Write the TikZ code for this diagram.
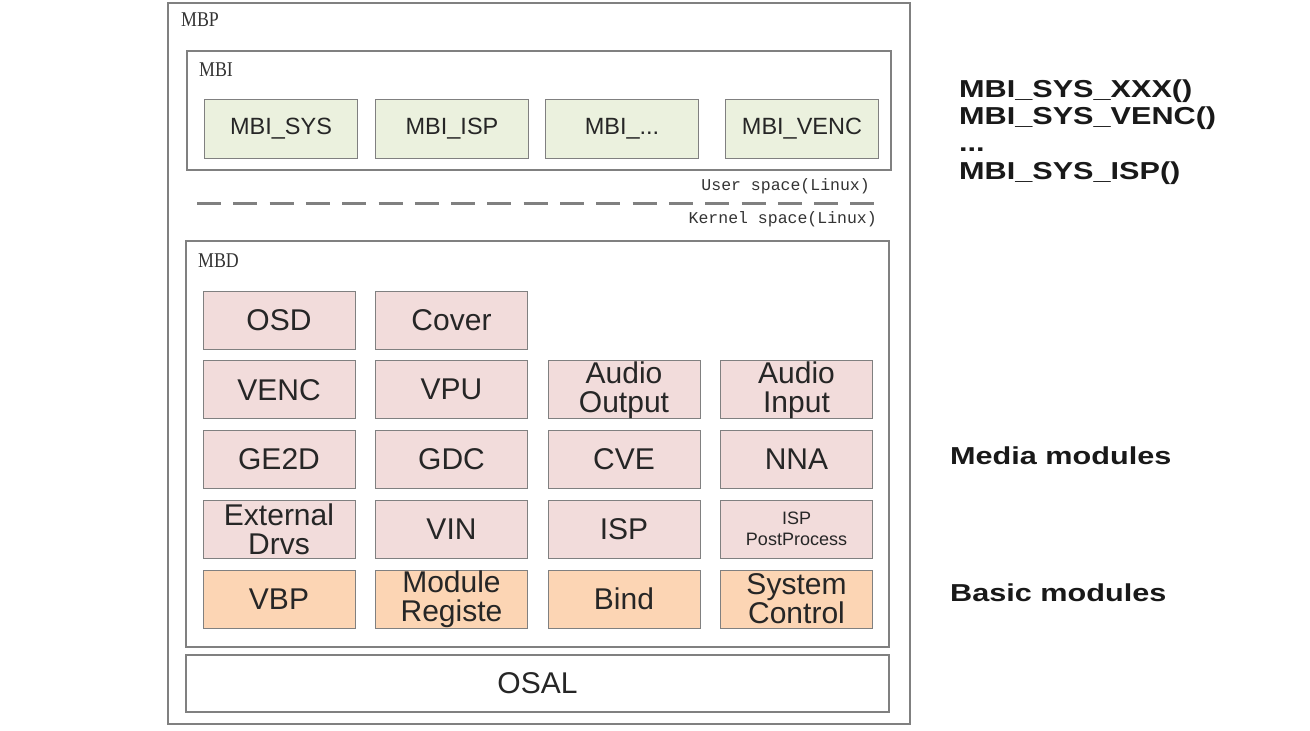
\documentclass[tikz,border=0pt]{standalone}
\usepackage{fontspec}
\setmainfont{Liberation Sans}
\newfontfamily\tagfont[FakeStretch=0.85]{Liberation Serif}
\newfontfamily\spacefont{Liberation Mono}
\newfontfamily\notefont[FakeStretch=1.25]{Liberation Sans}
\usetikzlibrary{positioning}
\usepackage{xcolor}
\definecolor{mbigreen}{HTML}{EBF1DE}
\definecolor{modpink}{HTML}{F2DCDB}
\definecolor{baseorange}{HTML}{FCD5B4}
\definecolor{edgegray}{RGB}{128,128,128}

\begin{document}
\begin{tikzpicture}[
  x=1pt, y=-1pt,
  node distance=10.75pt and 19.5pt,
  frame/.style={rectangle, draw=edgegray, line width=1.2pt, inner sep=0pt},
  box/.style={rectangle, draw=edgegray, line width=1pt, minimum width=152pt, minimum height=58pt, inner sep=0pt, align=center, text=black!85, font=\fontsize{30}{29}\selectfont},
  mbibox/.style={box, fill=mbigreen, minimum width=153pt, minimum height=59pt, font=\fontsize{23.5}{24}\selectfont},
  modbox/.style={box, fill=modpink},
  basebox/.style={box, fill=baseorange},
  lbl/.style={anchor=west, inner sep=0pt, text=black!80, font=\tagfont\fontsize{21}{21}\selectfont},
  spacelbl/.style={anchor=east, inner sep=0pt, text=black!80, font=\spacefont\fontsize{16.5}{17}\selectfont},
  note/.style={anchor=west, inner sep=0pt, align=left, text=black!90, font=\notefont\bfseries\fontsize{24.5}{27.3}\selectfont}
]
\fill[white] (0,0) rectangle (1310,731);
\useasboundingbox (0,0) rectangle (1310,731);

% frames
\node[frame, minimum width=742pt, minimum height=721pt] (mbp) at (539,363.5) {};
\node[frame, minimum width=704pt, minimum height=119pt] (mbi) at (539,110.5) {};
\node[frame, minimum width=703pt, minimum height=406pt] (mbd) at (537.5,444) {};
\node[frame, minimum width=703pt, minimum height=57pt, text=black!85, font=\fontsize{30}{30}\selectfont] (osal) at (537.5,683.5) {OSAL};

\node[lbl] (mbptag) at (181,20) {MBP};
\node[lbl] (mbitag) at (199,70) {MBI};
\node[lbl] (mbdtag) at (198,261) {MBD};

% user interface
\node[mbibox] (mbisys) at (281,128.5) {MBI\_SYS};
\node[mbibox, right=17pt of mbisys] (mbiisp) {MBI\_ISP};
\node[mbibox, right=16pt of mbiisp] (mbidots) {MBI\_...};
\node[mbibox, right=26pt of mbidots] (mbivenc) {MBI\_VENC};

% user / kernel split
\node[spacelbl] (user) at (870,186) {User space(Linux)};
\coordinate (sepl) at (197,203.5);
\coordinate (sepr) at (880,203.5);
\draw[edgegray, line width=2.6pt, dash pattern=on 24pt off 12.3pt] (sepl) -- (sepr);
\node[spacelbl] (kernel) at (877,219) {Kernel space(Linux)};

% media modules
\node[modbox] (osd) at (279,320) {OSD};
\node[modbox, right=of osd] (cover) {Cover};

\node[modbox, below=of osd] (venc) {VENC};
\node[modbox, right=of venc] (vpu) {VPU};
\node[modbox, right=of vpu] (aout) {Audio\\Output};
\node[modbox, right=of aout] (ain) {Audio\\Input};

\node[modbox, below=of venc] (ge2d) {GE2D};
\node[modbox, right=of ge2d] (gdc) {GDC};
\node[modbox, right=of gdc] (cve) {CVE};
\node[modbox, right=of cve] (nna) {NNA};

\node[modbox, below=of ge2d] (extdrv) {External\\Drvs};
\node[modbox, right=of extdrv] (vin) {VIN};
\node[modbox, right=of vin] (isp) {ISP};
\node[modbox, right=of isp, font=\fontsize{18}{21}\selectfont] (isppost) {ISP\\PostProcess};

% basic modules
\node[basebox, below=of extdrv] (vbp) {VBP};
\node[basebox, right=of vbp] (modreg) {Module\\Registe};
\node[basebox, right=of modreg] (bind) {Bind};
\node[basebox, right=of bind] (sysctl) {System\\Control};

% side notes
\node[note] (api) at (959,132) {MBI\_SYS\_XXX()\\MBI\_SYS\_VENC()\\...\\MBI\_SYS\_ISP()};
\node[note] (media) at (950,456) {Media modules};
\node[note] (basic) at (950,593) {Basic modules};

\end{tikzpicture}
\end{document}
